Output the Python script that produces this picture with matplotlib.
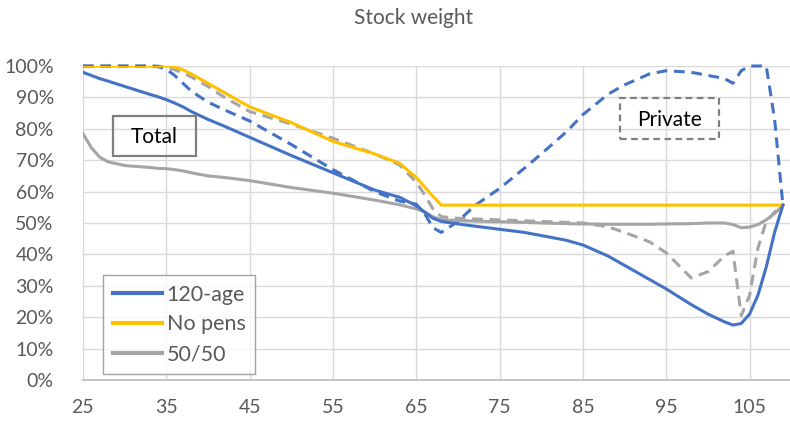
import matplotlib
matplotlib.use("Agg")
import matplotlib.pyplot as plt
from matplotlib.patches import Rectangle

# ===== DATA =====
ages = [25, 26, 27, 28, 30, 33, 34, 35, 36, 37, 38, 40, 42, 45, 50, 55, 60, 63,
        65, 66, 67, 68, 70, 72, 75, 78, 80, 83, 85, 88, 90, 93, 95, 98, 100,
        102, 103, 104, 105, 106, 107, 108, 109]

total_120 = [98, 97, 96, 95.2, 93.5, 91, 90.2, 89.3, 88.2, 87, 85.5, 83, 80.8,
             77.3, 71.5, 66, 60.5, 58.2, 55.5, 53.5, 51.5, 50.5, 49.7, 49, 48,
             47, 46, 44.5, 43, 39.5, 36.5, 32, 29, 24, 21, 18.5, 17.5, 18, 21,
             27, 36, 47, 55.7]
total_nopens = [100, 100, 100, 100, 100, 100, 100, 100, 99.7, 98.8, 97.5, 94.5,
                91.5, 87, 82, 76, 72, 69, 64.5, 61.5, 58.5, 55.7, 55.7, 55.7,
                55.7, 55.7, 55.7, 55.7, 55.7, 55.7, 55.7, 55.7, 55.7, 55.7, 55.7,
                55.7, 55.7, 55.7, 55.7, 55.7, 55.7, 55.7, 55.7]
total_5050 = [78.5, 74, 71, 69.5, 68.3, 67.7, 67.4, 67.3, 67, 66.6, 66, 65, 64.5,
              63.5, 61.3, 59.5, 57.3, 55.8, 54.5, 53.5, 52, 51, 50.8, 50.6, 50.4,
              50.2, 50, 49.8, 49.7, 49.6, 49.6, 49.6, 49.7, 49.8, 50, 50, 49.5,
              48.5, 48.7, 49.5, 51, 53, 55.7]

private_120 = [100, 100, 100, 100, 100, 100, 99.8, 99, 97, 94.5, 92, 88.5, 86,
               82.5, 75, 67, 60, 57, 56, 53, 48.5, 47, 50.5, 55.5, 61, 67.5, 72,
               79, 84.5, 91, 94, 97.5, 98.5, 98, 97, 96, 94.5, 98.5, 100, 100,
               100, 83, 55.7]
private_5050 = [100, 100, 100, 100, 100, 100, 100, 99.6, 98.8, 97.8, 96.5, 93.5,
                90, 85.5, 81.5, 77, 72, 68.5, 63, 59, 54.5, 52, 51.5, 51.3, 51,
                50.7, 50.5, 50.2, 50, 48.8, 47, 44, 40.5, 32.5, 34.5, 39.5, 41,
                20.5, 27, 42, 50.5, 53.5, 55.7]

x_ticks = [25, 35, 45, 55, 65, 75, 85, 95, 105]
y_ticks = list(range(0, 101, 10))

BLUE = "#4472C4"
YELLOW = "#FFC000"
GRAY = "#A5A5A5"
TEXT = "#595959"

plt.rcParams["font.family"] = ["Lato", "DejaVu Sans"]

fig = plt.figure(figsize=(7.9, 4.21), dpi=100)
ax = fig.add_axes([0.105, 0.0974, 0.895, 0.7458])

lw = 2.2
dash = (3.5, 2.2)

# private (dashed) curves first, totals drawn on top
ax.plot(ages, private_5050, color=GRAY, lw=lw, dashes=dash, clip_on=False)
ax.plot(ages, private_120, color=BLUE, lw=lw, dashes=dash, clip_on=False)
l3, = ax.plot(ages, total_5050, color=GRAY, lw=lw, label="50/50")
l2, = ax.plot(ages, total_nopens, color=YELLOW, lw=lw, label="No pens")
l1, = ax.plot(ages, total_120, color=BLUE, lw=lw, label="120-age")

ax.set_xlim(25, 109.85)
ax.set_ylim(0, 100)
ax.set_xticks(x_ticks)
ax.set_yticks(y_ticks)
ax.set_yticklabels([f"{v}%" for v in y_ticks])
ax.grid(True, color="#D9D9D9", lw=1.0)
ax.set_axisbelow(True)
for side in ["top", "right", "left"]:
    ax.spines[side].set_visible(False)
ax.spines["bottom"].set_color("#BFBFBF")
ax.spines["bottom"].set_linewidth(1.3)
ax.tick_params(length=0, labelsize=14, colors=TEXT)
ax.tick_params(axis="x", pad=14)
ax.tick_params(axis="y", pad=21)

fig.text(0.523, 0.957, "Stock weight", ha="center", va="center",
         fontsize=15, color=TEXT)

leg = ax.legend(handles=[l1, l2, l3], loc="upper left",
                bbox_to_anchor=(103 / 790, 1 - 275 / 421),
                bbox_transform=fig.transFigure, fontsize=15.5, frameon=True,
                fancybox=False, edgecolor="#8C8C8C", handlelength=2.3,
                borderpad=0.45, labelspacing=0.45, handletextpad=0.2,
                borderaxespad=0)
leg.get_frame().set_linewidth(1.0)
for t in leg.get_texts():
    t.set_color(TEXT)
for h in leg.get_lines():
    h.set_linewidth(3)

# label boxes
fig.patches.append(Rectangle((113 / 790, 1 - 156 / 421), 83 / 790, 40 / 421,
                             transform=fig.transFigure, fill=False,
                             edgecolor="#7F7F7F", lw=1.6))
fig.text(154.5 / 790, 1 - 137 / 421, "Total", ha="center", va="center",
         fontsize=15, color="black")
fig.patches.append(Rectangle((620 / 790, 1 - 139 / 421), 99 / 790, 41 / 421,
                             transform=fig.transFigure, fill=False,
                             edgecolor="#7F7F7F", lw=1.6, linestyle=(0, (3, 2))))
fig.text(669.5 / 790, 1 - 120 / 421, "Private", ha="center", va="center",
         fontsize=15, color="black")

fig.savefig("out.png", dpi=100)
